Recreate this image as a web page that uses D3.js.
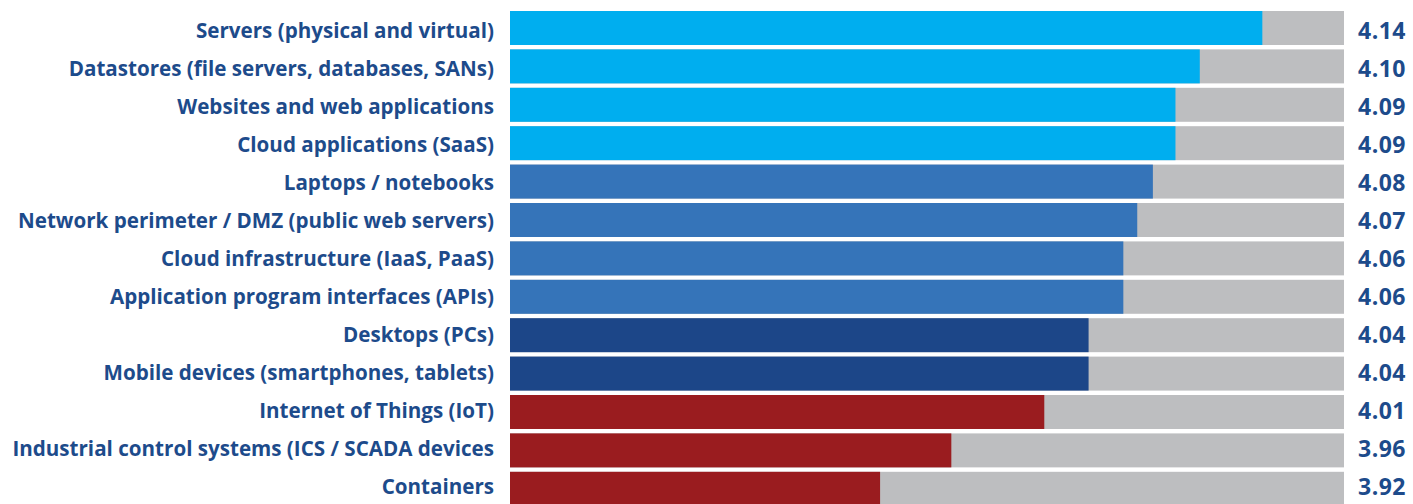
<!DOCTYPE html>
<html>
<head>
<meta charset="utf-8">
<script src="https://cdn.jsdelivr.net/npm/d3@7"></script>
<style>
  body { margin: 0; background: #fff; }
  .label { font-family: "Open Sans", sans-serif; font-weight: 700; fill: #1d4b8b; }
</style>
</head>
<body>
<div id="chart"></div>
<script>
var categories = [
  "Servers (physical and virtual)",
  "Datastores (file servers, databases, SANs)",
  "Websites and web applications",
  "Cloud applications (SaaS)",
  "Laptops / notebooks",
  "Network perimeter / DMZ (public web servers)",
  "Cloud infrastructure (IaaS, PaaS)",
  "Application program interfaces (APIs)",
  "Desktops (PCs)",
  "Mobile devices (smartphones, tablets)",
  "Internet of Things (IoT)",
  "Industrial control systems (ICS / SCADA devices",
  "Containers"
];
var scores = [4.140, 4.104, 4.090, 4.090, 4.077, 4.068, 4.060, 4.060, 4.040, 4.040, 4.0145, 3.961, 3.920];
var groups = ["a", "a", "a", "a", "b", "b", "b", "b", "c", "c", "d", "d", "d"];

var svgWidth = 1413;
var svgHeight = 504;

var margin = { top: 11, right: 69, bottom: 0, left: 510 };
var chartWidth = svgWidth - margin.left - margin.right;

var svg = d3.select("#chart")
  .append("svg")
  .attr("width", svgWidth)
  .attr("height", svgHeight);

var chart = svg.append("g")
  .attr("transform", "translate(" + margin.left + "," + margin.top + ")");

var xScale = d3.scaleLinear().domain([3.707, 4.187]).range([0, chartWidth]);
var yScale = d3.scaleBand().domain(categories).range([0, 38.4 * 12.885]).paddingInner(0.115).paddingOuter(0);
// text rows sit on a slightly tighter pitch than the bars
var textY = d3.scalePoint().domain(categories).range([20, 476]);
var color = d3.scaleOrdinal().domain(["a", "b", "c", "d"]).range(["#00aeef", "#3574b9", "#1c4688", "#9a1c1f"]);

var rows = categories.map(function(c, i) {
  return { name: c, score: scores[i], group: groups[i] };
});

// grey track
chart.selectAll(".track")
  .data(rows)
  .enter()
  .append("rect")
  .attr("class", "track")
  .attr("x", 0)
  .attr("y", d => yScale(d.name))
  .attr("width", chartWidth)
  .attr("height", yScale.bandwidth())
  .attr("fill", "#bdbec0");

chart.selectAll(".bar")
  .data(rows)
  .enter()
  .append("rect")
  .attr("class", "bar")
  .attr("x", 0)
  .attr("y", d => yScale(d.name))
  .attr("width", d => xScale(d.score))
  .attr("height", yScale.bandwidth())
  .attr("fill", d => color(d.group));

chart.selectAll(".cat")
  .data(rows)
  .enter()
  .append("text")
  .attr("class", "label cat")
  .attr("x", -16)
  .attr("y", d => textY(d.name))
  .attr("dy", "0.36em")
  .attr("text-anchor", "end")
  .style("font-size", "20.6px")
  .text(d => d.name);

chart.selectAll(".val")
  .data(rows)
  .enter()
  .append("text")
  .attr("class", "label val")
  .attr("x", chartWidth + 14)
  .attr("y", d => textY(d.name))
  .attr("dy", "0.36em")
  .style("font-size", "23px")
  .style("letter-spacing", "0.5px")
  .text(d => d3.format(".2f")(d.score));
</script>
</body>
</html>
